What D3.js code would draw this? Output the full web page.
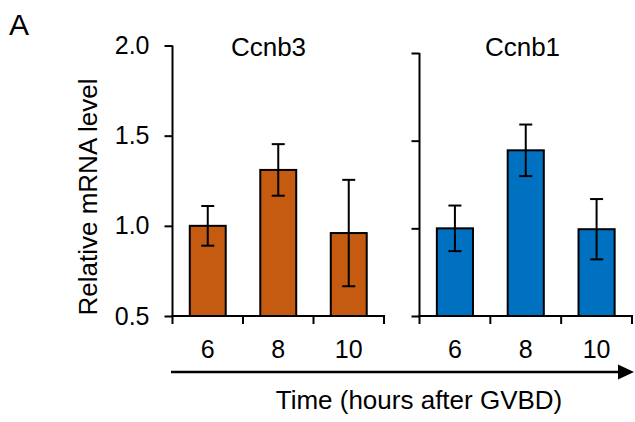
<!DOCTYPE html>
<html><head><meta charset="utf-8">
<script src="https://cdn.jsdelivr.net/npm/d3@7"></script>
<style>body{margin:0;background:#fff}svg{display:block;font-family:"Liberation Sans",Arial,sans-serif}</style>
</head><body><svg id="c" width="635" height="422"></svg>
<script>
const categories = ["6", "8", "10"];
const ccnb3Values = [1.00, 1.31, 0.96];
const ccnb3Errors = [0.11, 0.143, 0.295];
const ccnb1Values = [1.00, 1.445, 0.995];
const ccnb1Errors = [0.13, 0.147, 0.172];
const yTicks = [0.5, 1.0, 1.5, 2.0];
const panels = [
  {title: "Ccnb3", values: ccnb3Values, errors: ccnb3Errors, color: "#C55A11", x0: 172.5, x1: 384, yTop: 45.5, showLabels: true, titleX: 268.5},
  {title: "Ccnb1", values: ccnb1Values, errors: ccnb1Errors, color: "#0070C0", x0: 419.5, x1: 632, yTop: 53, showLabels: false, titleX: 522.5}
];
const svg = d3.select("#c");
const yBottom = 316;
const pad = 0.49;

panels.forEach(p => {
  const x = d3.scaleBand().domain(categories).range([p.x0, p.x1]).paddingInner(pad).paddingOuter(pad/2);
  const y = d3.scaleLinear().domain([0.5, 2.0]).range([yBottom, p.yTop]);
  const g = svg.append("g");
  const step = x.step();
  g.selectAll("rect.bar").data(p.values).join("rect")
    .attr("x", (d,i) => x(categories[i])).attr("y", d => y(d))
    .attr("width", x.bandwidth()).attr("height", d => yBottom - y(d))
    .attr("fill", p.color).attr("stroke", "#000").attr("stroke-width", 2);
  const cap = 6.5;
  p.values.forEach((v,i) => {
    const cx = x(categories[i]) + x.bandwidth()/2;
    const e = p.errors[i];
    g.append("line").attr("x1", cx).attr("x2", cx).attr("y1", y(v+e)).attr("y2", y(v-e)).attr("stroke","#000").attr("stroke-width",2);
    [v+e, v-e].forEach(t => g.append("line").attr("x1", cx-cap).attr("x2", cx+cap).attr("y1", y(t)).attr("y2", y(t)).attr("stroke","#000").attr("stroke-width",2));
  });
  const ya = d3.axisLeft(y).tickValues(yTicks).tickSize(8).tickFormat(p.showLabels ? d3.format(".1f") : "");
  const yg = g.append("g").attr("transform", `translate(${p.x0},0)`).call(ya);
  yg.attr("font-family", null).attr("font-size", null);
  yg.select(".domain").remove();
  yg.append("line").attr("x1",0).attr("x2",0).attr("y1",p.yTop).attr("y2",yBottom).attr("stroke","#000").attr("stroke-width",2);
  yg.selectAll(".tick line").attr("stroke","#000").attr("stroke-width",2);
  yg.selectAll(".tick text").attr("font-size", 25).attr("fill","#000").attr("x", -23);
  const boundaries = [0,1,2,3].map(i => p.x0 + i*step);
  g.append("line").attr("x1", p.x0-1).attr("x2", p.x1+1).attr("y1", yBottom).attr("y2", yBottom).attr("stroke","#000").attr("stroke-width",2);
  g.selectAll("line.xt").data(boundaries).join("line").attr("class","xt")
    .attr("x1", d=>d).attr("x2", d=>d).attr("y1", yBottom).attr("y2", yBottom+8).attr("stroke","#000").attr("stroke-width",2);
  g.selectAll("text.xl").data(categories).join("text").attr("class","xl")
    .attr("x", d => x(d) + x.bandwidth()/2).attr("y", 358).attr("text-anchor","middle")
    .attr("font-size", 25).text(d => d);
  g.append("text").attr("x", p.titleX).attr("y", 56).attr("text-anchor","middle").attr("font-size", 26).text(p.title);
});

svg.append("text").attr("x", 9).attr("y", 35).attr("font-size", 30).text("A");
svg.append("text").attr("transform","translate(97,197) rotate(-90)").attr("text-anchor","middle").attr("font-size", 26).text("Relative mRNA level");
svg.append("line").attr("x1",171).attr("x2",620).attr("y1",372).attr("y2",372).attr("stroke","#000").attr("stroke-width",2.5);
svg.append("path").attr("d","M618,364.5 L634,372 L618,379.5 Z").attr("fill","#000");
svg.append("text").attr("x", 419).attr("y", 409).attr("text-anchor","middle").attr("font-size", 26).text("Time (hours after GVBD)");
</script></body></html>
